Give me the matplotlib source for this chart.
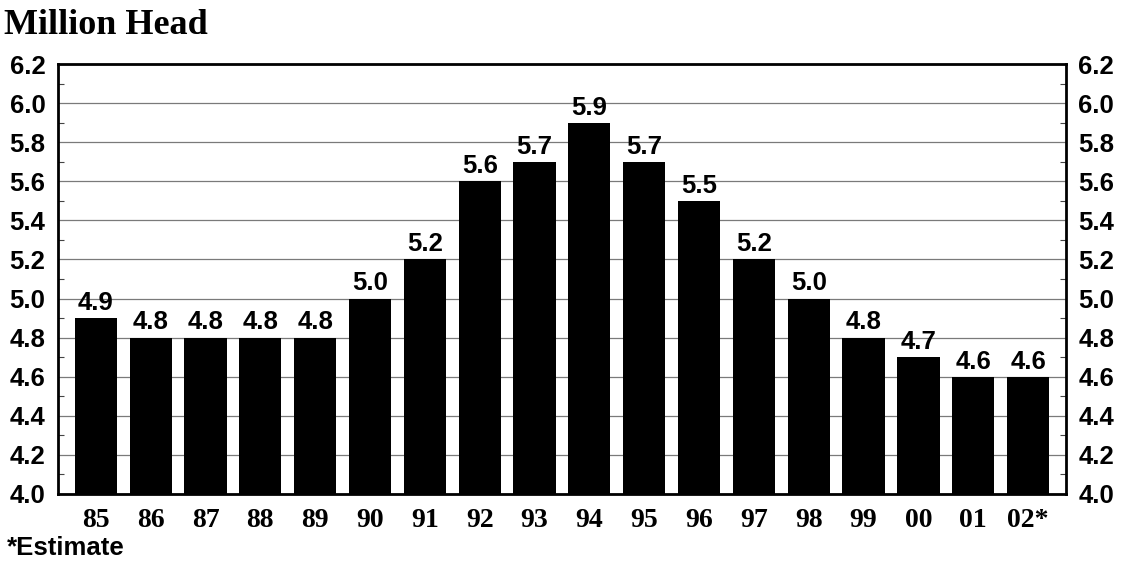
import matplotlib.pyplot as plt
from matplotlib.ticker import MultipleLocator, FormatStrFormatter

years = ["85", "86", "87", "88", "89", "90", "91", "92", "93",
         "94", "95", "96", "97", "98", "99", "00", "01", "02*"]
head = [4.9, 4.8, 4.8, 4.8, 4.8, 5.0, 5.2, 5.6, 5.7,
        5.9, 5.7, 5.5, 5.2, 5.0, 4.8, 4.7, 4.6, 4.6]

sans = "Liberation Sans"
serif = "Liberation Serif"

fig = plt.figure(figsize=(11.23, 5.63), dpi=100)
ax = fig.add_axes([0.0516, 0.1226, 0.8976, 0.7637])

x = range(len(years))
ax.bar(x, head, width=0.77, bottom=0, color="black", zorder=3)
for i, v in zip(x, head):
    ax.text(i, v + 0.016, f"{v:.1f}", ha="center", va="bottom",
            fontsize=18.5, fontweight="bold", family=sans, zorder=4)

ax.set_ylim(4.0, 6.2)
ax.set_xlim(-0.69, len(years) - 0.31)
ax.yaxis.set_major_locator(MultipleLocator(0.2))
ax.yaxis.set_minor_locator(MultipleLocator(0.1))
ax.yaxis.set_major_formatter(FormatStrFormatter("%.1f"))
ax.grid(axis="y", which="major", color="#7a7a7a", linewidth=0.9, zorder=1)

ax.set_xticks(list(x))
ax.set_xticklabels(years, family=serif, fontweight="bold", fontsize=20)
ax.tick_params(axis="x", length=0, pad=10)
ax.tick_params(axis="y", which="major", length=0, pad=9, labelsize=18.5,
               left=True, right=True, labelleft=True, labelright=True)
ax.tick_params(axis="y", which="minor", direction="in", length=4,
               width=0.8, left=True, right=True, color="#444444")
for lab in ax.get_yticklabels() + ax.yaxis.get_ticklabels(which="major"):
    lab.set_family(sans)
    lab.set_fontweight("bold")

for s in ax.spines.values():
    s.set_linewidth(2)
    s.set_zorder(5)

fig.text(0.004, 0.955, "Million Head", family=serif, fontweight="bold",
         fontsize=26, ha="left", va="center")
fig.text(0.006, 0.027, "*Estimate", family=sans, fontweight="bold",
         fontsize=18.5, ha="left", va="center")

fig.savefig("out.png", dpi=100)
